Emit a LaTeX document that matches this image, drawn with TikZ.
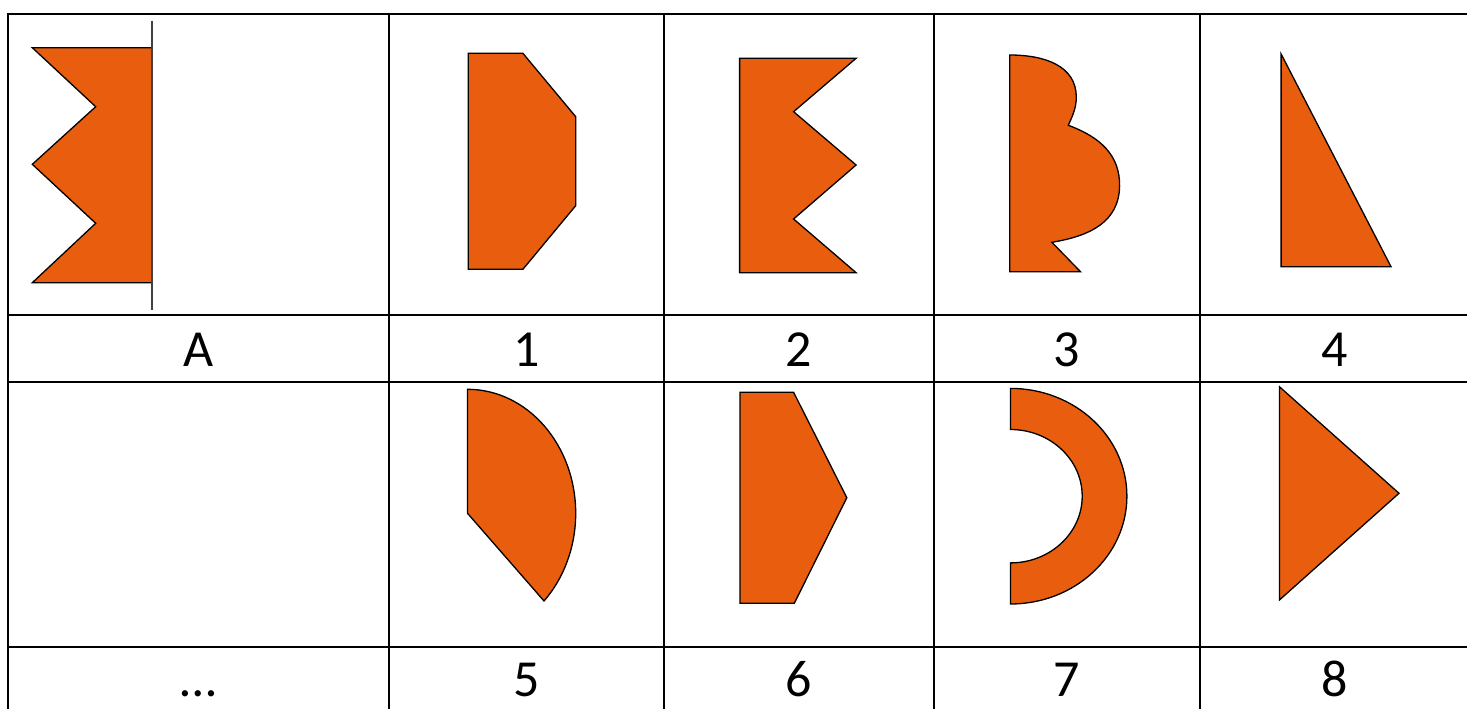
\documentclass[tikz,border=0pt]{standalone}
\usepackage{fontspec}
\setmainfont{Carlito}
\definecolor{shapeorange}{RGB}{232,93,14}
\begin{document}
\begin{tikzpicture}[x=1pt,y=-1pt,
  gridline/.style={line width=2pt, black},
  fig/.style={fill=shapeorange, draw=black, line width=1.3pt, line join=miter},
  lbl/.style={font=\fontsize{52}{52}\selectfont, inner sep=0pt, anchor=base}]
\useasboundingbox (0,0) rectangle (1467,709);
% table grid
\foreach \yy in {14,315,382,647} \draw[gridline] (7,\yy) -- (1467,\yy);
\foreach \xx in {8,389,664,934,1200} \draw[gridline] (\xx,13) -- (\xx,709);
% shape A
\path[fig] (32.3,47.7) -- (152.3,47.7) -- (152.3,282.7) -- (32.3,282.7) -- (95.7,223.3) -- (32.3,164.3) -- (95.7,106.7) -- cycle;
\draw[line width=2pt, black!75] (152.3,20.7) -- (152.3,310);
% shape 1
\path[fig] (468.2,53.3) -- (522.9,53.3) -- (575.7,116.7) -- (575.7,205.7) -- (522.9,269.3) -- (468.2,269.3) -- cycle;
% shape 2
\path[fig] (739.6,58.3) -- (856.1,58.3) -- (793.6,111.7) -- (856.1,165) -- (793.6,219) -- (856.1,272.7) -- (739.6,272.7) -- cycle;
% shape 3
\path[fig] (1009.7,55) .. controls (1045,55) and (1076,66) .. (1076.3,96.7)
  .. controls (1076.5,108) and (1072,117) .. (1068.3,125.3)
  .. controls (1100,137) and (1120,155) .. (1119.6,186)
  .. controls (1119,222) and (1090,236) .. (1051.9,242.3)
  -- (1080.5,271.7) -- (1009.7,271.7) -- cycle;
% shape 4
\path[fig] (1281.1,54) -- (1391,266.7) -- (1281.1,266.7) -- cycle;
% shape 5
\path[fig] (467.5,513.3) -- (467.5,389.3) arc[start angle=-90, end angle=45, x radius=108.2, y radius=124] -- cycle;
% shape 6
\path[fig] (740,392.3) -- (793.6,392.3) -- (846.8,497.7) -- (794.3,603.3) -- (740,603.3) -- cycle;
% shape 7
\path[fig] (1010.4,388.4) arc[start angle=-90, end angle=90, x radius=116.5, y radius=107.8]
  -- (1010.4,562.9) arc[start angle=90, end angle=-90, x radius=71.8, y radius=66.7] -- cycle;
% shape 8
\path[fig] (1279.4,386.7) -- (1399,493.3) -- (1279.4,600) -- cycle;
% labels
\node[lbl] (la) at (198.5,366.7) {A};
\node[lbl] (l1) at (526.5,366.7) {1};
\node[lbl] (l2) at (799,366.7) {2};
\node[lbl] (l3) at (1067,366.7) {3};
\node[lbl] (l4) at (1335,366.7) {4};
\node[lbl] (ldots) at (198.5,696.7) {…};
\node[lbl] (l5) at (526.5,696.7) {5};
\node[lbl] (l6) at (799,696.7) {6};
\node[lbl] (l7) at (1067,696.7) {7};
\node[lbl] (l8) at (1335,696.7) {8};
\end{tikzpicture}
\end{document}
